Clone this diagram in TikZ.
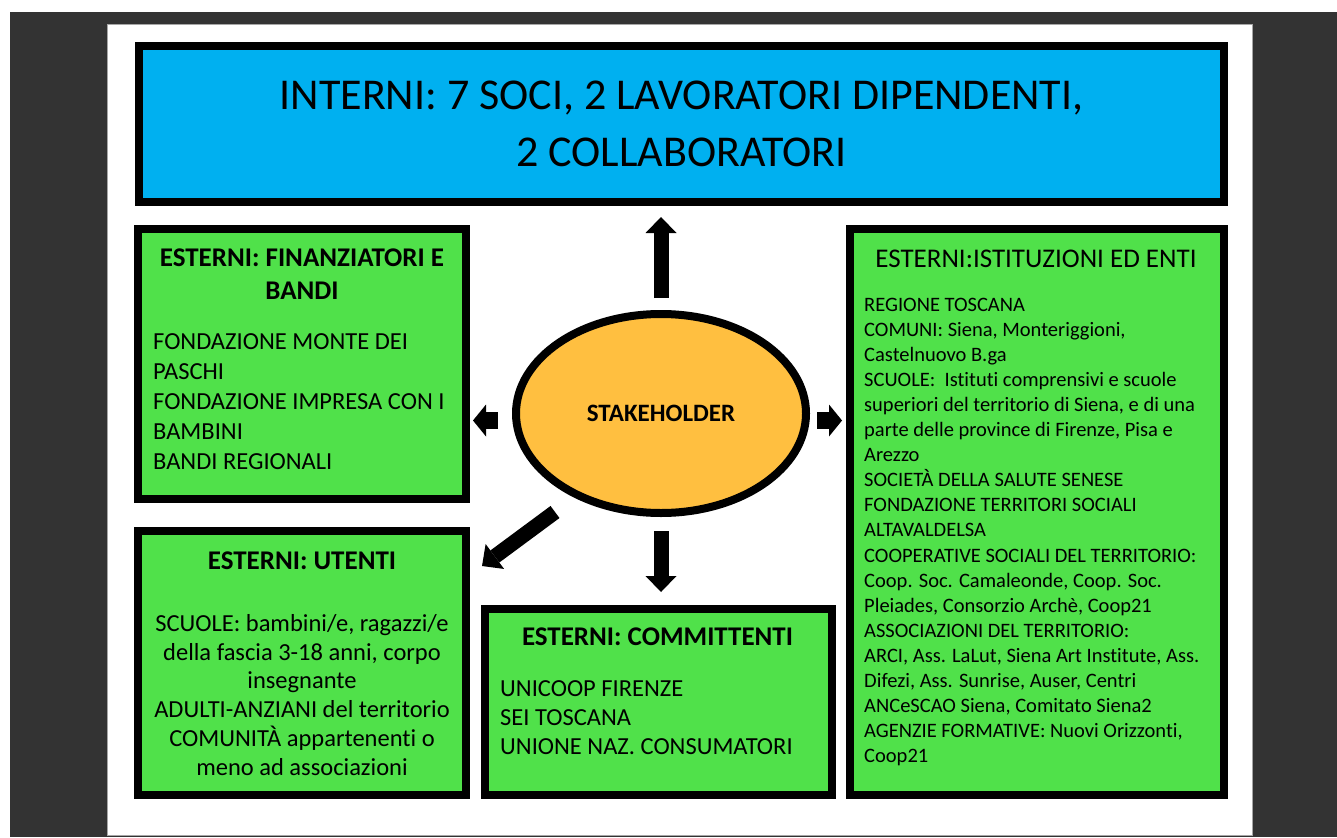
\documentclass[tikz,border=0pt]{standalone}
\usepackage{fontspec}
\setmainfont{Carlito}[Ligatures=NoCommon]
\usetikzlibrary{arrows.meta,shapes.geometric}
\definecolor{pagebg}{HTML}{333333}
\definecolor{intblue}{HTML}{00B0F0}
\definecolor{extgreen}{HTML}{50E14A}
\definecolor{stakeor}{HTML}{FFBF40}
\begin{document}
\begin{tikzpicture}[x=1pt,y=-1pt,
  box/.style={draw=black, line width=8pt, rectangle, inner sep=0pt, fill=extgreen},
  headtxt/.style={font=\bfseries\fontsize{27}{33}\selectfont, inner sep=0pt, align=center, anchor=north},
  bodytxt/.style={inner sep=0pt, align=left, anchor=north west},
  blockarrow/.style={line width=15pt, -{Triangle[width=31pt,length=16pt,line width=0pt]}},
  sidearrow/.style={line width=17pt, -{Triangle[width=32pt,length=13pt,line width=0pt]}},
]
\useasboundingbox (0,0) rectangle (1337,837);
\fill[white] (0,0) rectangle (1337,837);
\fill[pagebg] (10,12) rectangle (1337,837);
\filldraw[fill=white, draw=gray!70, line width=1pt] (107,25) rectangle (1252,835.5);

% top box
\node[box, fill=intblue, minimum width=1085pt, minimum height=156pt,
      font=\fontsize{44}{57}\selectfont, align=center] (interni) at (681.5,124)
      {INTERNI: 7 SOCI, 2 LAVORATORI DIPENDENTI,\\2 COLLABORATORI};

% green boxes
\node[box, minimum width=328pt, minimum height=270pt] (fin) at (302,364) {};
\node[box, minimum width=328pt, minimum height=264pt] (ute) at (302,663) {};
\node[box, minimum width=347pt, minimum height=186pt] (com) at (658.5,702) {};
\node[box, minimum width=374pt, minimum height=566pt] (ist) at (1037,512) {};

% central ellipse
\node[ellipse, draw=black, line width=8pt, fill=stakeor, inner sep=0pt,
      minimum width=290pt, minimum height=199pt,
      font=\bfseries\fontsize{25}{30}\selectfont] (stake) at (661,413.5) {STAKEHOLDER};

% texts: finanziatori
\node[headtxt] (finh) at (302,249) {ESTERNI: FINANZIATORI E\\BANDI};
\node[bodytxt, font=\fontsize{24.5}{30}\selectfont] (finb) at (153,333)
  {FONDAZIONE MONTE DEI\\PASCHI\\FONDAZIONE IMPRESA CON I\\BAMBINI\\BANDI REGIONALI};

% utenti
\node[headtxt] (uteh) at (302,552) {ESTERNI: UTENTI};
\node[inner sep=0pt, align=center, anchor=north, font=\fontsize{24.5}{28.8}\selectfont] (uteb) at (302,614)
  {SCUOLE: bambini/e, ragazzi/e\\della fascia 3-18 anni, corpo\\insegnante\\ADULTI-ANZIANI del territorio\\COMUNITÀ appartenenti o\\meno ad associazioni};

% committenti
\node[headtxt] (comh) at (657.5,628) {ESTERNI: COMMITTENTI};
\node[bodytxt, font=\fontsize{24.5}{29}\selectfont] (comb) at (500,680)
  {UNICOOP FIRENZE\\SEI TOSCANA\\UNIONE NAZ. CONSUMATORI};

% istituzioni
\node[inner sep=0pt, anchor=north, font=\fontsize{27}{30}\selectfont] (isth) at (1036,250) {ESTERNI:ISTITUZIONI ED ENTI};
\node[bodytxt, font=\fontsize{20.5}{25.05}\selectfont] (istb) at (864,298)
  {REGIONE TOSCANA\\
   COMUNI: Siena, Monteriggioni,\\
   Castelnuovo B.ga\\
   SCUOLE:\ \ Istituti comprensivi e scuole\\
   superiori del territorio di Siena, e di una\\
   parte delle province di Firenze, Pisa e\\
   Arezzo\\
   SOCIETÀ DELLA SALUTE SENESE\\
   FONDAZIONE TERRITORI SOCIALI\\
   ALTAVALDELSA\\
   COOPERATIVE SOCIALI DEL TERRITORIO:\\
   Coop. Soc. Camaleonde, Coop. Soc.\\
   Pleiades, Consorzio Archè, Coop21\\
   ASSOCIAZIONI DEL TERRITORIO:\\
   ARCI, Ass. LaLut, Siena Art Institute, Ass.\\
   Difezi, Ass. Sunrise, Auser, Centri\\
   ANCeSCAO Siena, Comitato Siena2\\
   AGENZIE FORMATIVE: Nuovi Orizzonti,\\
   Coop21};

% arrows
\draw[blockarrow] ([yshift=12pt]stake.north) -- ([yshift=-11pt]stake.north |- interni.south);
\draw[blockarrow] ([yshift=-14pt]stake.south) -- ([yshift=13pt]stake.south |- com.north);
\coordinate (ltail) at ([xshift=-14pt,yshift=-7pt]stake.west);
\coordinate (rtail) at ([xshift=7pt,yshift=-7pt]stake.east);
\draw[sidearrow] (ltail) -- ([xshift=3pt]ltail -| fin.east);
\draw[sidearrow] (rtail) -- ([xshift=-4pt]rtail -| ist.west);
\coordinate (dtail) at (555,512);
\draw[blockarrow] (dtail) -- ([xshift=12pt,yshift=-39pt]ute.north east);
\end{tikzpicture}
\end{document}
